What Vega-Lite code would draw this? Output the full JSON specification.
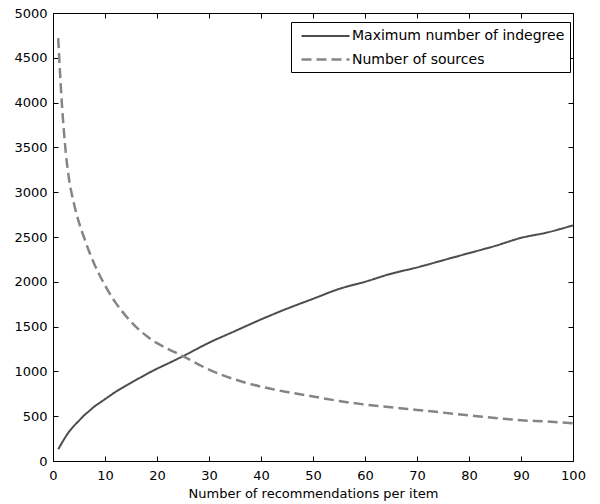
{
  "$schema": "https://vega.github.io/schema/vega-lite/v6.json",
  "width": 520,
  "height": 448,
  "autosize": {"type": "none"},
  "padding": {"left": 53, "top": 13, "right": 27, "bottom": 43},
  "background": "white",
  "config": {
    "font": "DejaVu Sans",
    "view": {"stroke": "black", "strokeWidth": 1},
    "axis": {"grid": false, "domainColor": "black", "tickColor": "black", "labelColor": "black", "titleColor": "black", "labelFont": "DejaVu Sans", "titleFont": "DejaVu Sans", "labelFontSize": 13, "titleFontSize": 13, "titleFontWeight": "normal", "labelOverlap": false, "labelFlush": false, "labelBound": false, "format": "d"}
  },
  "datasets": {
    "d": [
      {"x": 1, "v": 130, "s": "Maximum number of indegree"},
      {"x": 2, "v": 230, "s": "Maximum number of indegree"},
      {"x": 3, "v": 320, "s": "Maximum number of indegree"},
      {"x": 4, "v": 390, "s": "Maximum number of indegree"},
      {"x": 5, "v": 450, "s": "Maximum number of indegree"},
      {"x": 6, "v": 510, "s": "Maximum number of indegree"},
      {"x": 7, "v": 560, "s": "Maximum number of indegree"},
      {"x": 8, "v": 610, "s": "Maximum number of indegree"},
      {"x": 9, "v": 650, "s": "Maximum number of indegree"},
      {"x": 10, "v": 690, "s": "Maximum number of indegree"},
      {"x": 12, "v": 770, "s": "Maximum number of indegree"},
      {"x": 14, "v": 840, "s": "Maximum number of indegree"},
      {"x": 16, "v": 905, "s": "Maximum number of indegree"},
      {"x": 18, "v": 970, "s": "Maximum number of indegree"},
      {"x": 20, "v": 1030, "s": "Maximum number of indegree"},
      {"x": 22, "v": 1085, "s": "Maximum number of indegree"},
      {"x": 25, "v": 1170, "s": "Maximum number of indegree"},
      {"x": 30, "v": 1320, "s": "Maximum number of indegree"},
      {"x": 35, "v": 1450, "s": "Maximum number of indegree"},
      {"x": 40, "v": 1580, "s": "Maximum number of indegree"},
      {"x": 45, "v": 1700, "s": "Maximum number of indegree"},
      {"x": 50, "v": 1810, "s": "Maximum number of indegree"},
      {"x": 55, "v": 1920, "s": "Maximum number of indegree"},
      {"x": 60, "v": 2000, "s": "Maximum number of indegree"},
      {"x": 65, "v": 2090, "s": "Maximum number of indegree"},
      {"x": 70, "v": 2160, "s": "Maximum number of indegree"},
      {"x": 75, "v": 2240, "s": "Maximum number of indegree"},
      {"x": 80, "v": 2320, "s": "Maximum number of indegree"},
      {"x": 85, "v": 2400, "s": "Maximum number of indegree"},
      {"x": 90, "v": 2490, "s": "Maximum number of indegree"},
      {"x": 95, "v": 2550, "s": "Maximum number of indegree"},
      {"x": 100, "v": 2630, "s": "Maximum number of indegree"},
      {"x": 1, "v": 4720, "s": "Number of sources"},
      {"x": 1.5, "v": 4180, "s": "Number of sources"},
      {"x": 2, "v": 3750, "s": "Number of sources"},
      {"x": 2.5, "v": 3420, "s": "Number of sources"},
      {"x": 3, "v": 3180, "s": "Number of sources"},
      {"x": 4, "v": 2880, "s": "Number of sources"},
      {"x": 5, "v": 2660, "s": "Number of sources"},
      {"x": 6, "v": 2490, "s": "Number of sources"},
      {"x": 7, "v": 2330, "s": "Number of sources"},
      {"x": 8, "v": 2190, "s": "Number of sources"},
      {"x": 9, "v": 2070, "s": "Number of sources"},
      {"x": 10, "v": 1960, "s": "Number of sources"},
      {"x": 12, "v": 1770, "s": "Number of sources"},
      {"x": 14, "v": 1620, "s": "Number of sources"},
      {"x": 16, "v": 1495, "s": "Number of sources"},
      {"x": 18, "v": 1395, "s": "Number of sources"},
      {"x": 20, "v": 1315, "s": "Number of sources"},
      {"x": 22, "v": 1255, "s": "Number of sources"},
      {"x": 25, "v": 1170, "s": "Number of sources"},
      {"x": 30, "v": 1020, "s": "Number of sources"},
      {"x": 35, "v": 910, "s": "Number of sources"},
      {"x": 40, "v": 830, "s": "Number of sources"},
      {"x": 45, "v": 770, "s": "Number of sources"},
      {"x": 50, "v": 720, "s": "Number of sources"},
      {"x": 55, "v": 670, "s": "Number of sources"},
      {"x": 60, "v": 630, "s": "Number of sources"},
      {"x": 65, "v": 600, "s": "Number of sources"},
      {"x": 70, "v": 570, "s": "Number of sources"},
      {"x": 75, "v": 540, "s": "Number of sources"},
      {"x": 80, "v": 510, "s": "Number of sources"},
      {"x": 85, "v": 480, "s": "Number of sources"},
      {"x": 90, "v": 455, "s": "Number of sources"},
      {"x": 95, "v": 440, "s": "Number of sources"},
      {"x": 100, "v": 420, "s": "Number of sources"}
    ]
  },
  "data": {"name": "d"},
  "resolve": {"axis": {"x": "independent", "y": "independent"}},
  "layer": [
    {
      "mark": {"type": "line", "interpolate": "monotone"},
      "encoding": {
        "x": {"field": "x", "type": "quantitative", "scale": {"domain": [0, 100], "nice": false},
          "axis": {"orient": "bottom", "values": [0,10,20,30,40,50,60,70,80,90,100], "title": "Number of recommendations per item", "ticks": false, "tickSize": 0, "domain": false, "labelPadding": 8, "titlePadding": 5}},
        "y": {"field": "v", "type": "quantitative", "scale": {"domain": [0, 5000], "nice": false},
          "axis": {"orient": "left", "values": [0,500,1000,1500,2000,2500,3000,3500,4000,4500,5000], "title": null, "ticks": false, "tickSize": 0, "domain": false, "labelPadding": 6}},
        "color": {"field": "s", "type": "nominal",
          "scale": {"domain": ["Maximum number of indegree", "Number of sources"], "range": ["#4d4d4d", "#858585"]},
          "legend": {"title": null, "orient": "none", "legendX": 238, "legendY": 9, "strokeColor": "black", "fillColor": "white", "padding": 5, "symbolType": "M-3,0H3", "symbolSize": 256, "symbolStrokeWidth": 2, "symbolFillColor": "transparent", "symbolOffset": 20, "labelFontSize": 14, "labelFont": "DejaVu Sans", "labelColor": "black", "rowPadding": 7, "labelOffset": 17, "labelLimit": 400}},
        "strokeDash": {"field": "s", "type": "nominal",
          "scale": {"domain": ["Maximum number of indegree", "Number of sources"], "range": [[1, 0], [10, 5]]},
          "legend": {"title": null, "orient": "none", "legendX": 238, "legendY": 9}},
        "strokeWidth": {"field": "s", "type": "nominal",
          "scale": {"domain": ["Maximum number of indegree", "Number of sources"], "range": [2, 2.5]},
          "legend": null}
      }
    },
    {
      "mark": {"type": "line", "strokeOpacity": 0},
      "encoding": {
        "x": {"field": "x", "type": "quantitative", "axis": {"orient": "top", "offset": -448, "values": [0,10,20,30,40,50,60,70,80,90,100], "labels": false, "domain": false, "tickSize": 5, "title": null}},
        "y": {"field": "v", "type": "quantitative", "axis": {"orient": "right", "offset": -520, "values": [0,500,1000,1500,2000,2500,3000,3500,4000,4500,5000], "labels": false, "domain": false, "tickSize": 5, "title": null}},
        "detail": {"field": "s"}
      }
    },
    {
      "mark": {"type": "line", "strokeOpacity": 0},
      "encoding": {
        "x": {"field": "x", "type": "quantitative", "axis": {"orient": "bottom", "offset": -448, "values": [0,10,20,30,40,50,60,70,80,90,100], "labels": false, "domain": false, "tickSize": 5, "title": null}},
        "y": {"field": "v", "type": "quantitative", "axis": {"orient": "left", "offset": -520, "values": [0,500,1000,1500,2000,2500,3000,3500,4000,4500,5000], "labels": false, "domain": false, "tickSize": 5, "title": null}},
        "detail": {"field": "s"}
      }
    }
  ]
}
